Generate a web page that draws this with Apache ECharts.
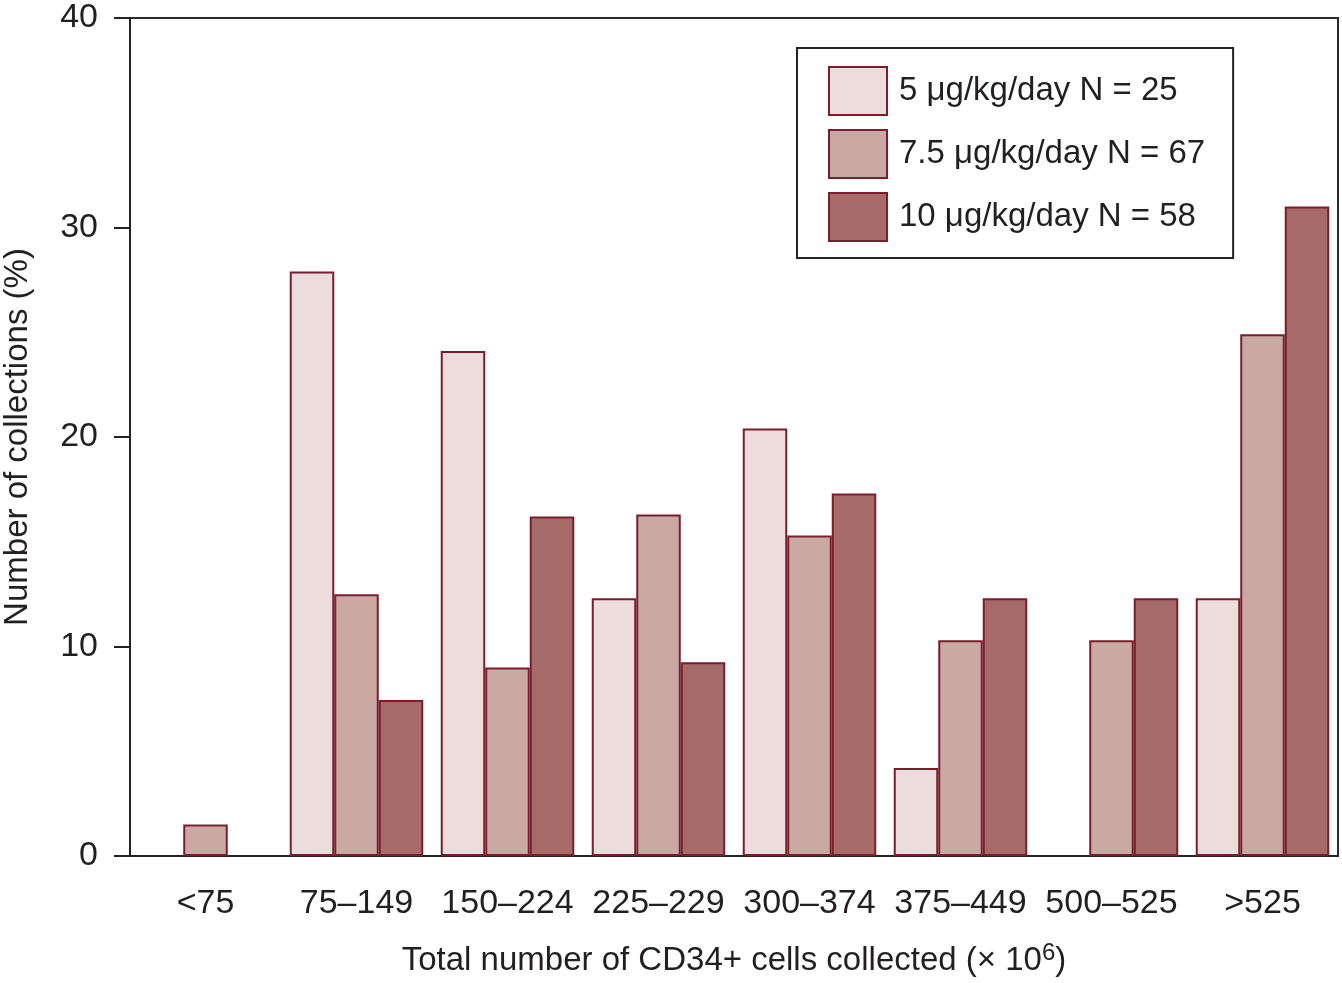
<!DOCTYPE html>
<html>
<head>
<meta charset="utf-8">
<script src="https://cdn.jsdelivr.net/npm/echarts@6/dist/echarts.min.js"></script>
<style>
html,body{margin:0;padding:0;background:#fff;}
#chart{width:1342px;height:983px;}
</style>
</head>
<body>
<div id="chart"></div>
<script>
const categories = ['<75', '75–149', '150–224', '225–229', '300–374', '375–449', '500–525', '>525'];
const seriesNames = ['5 μg/kg/day N = 25', '7.5 μg/kg/day N = 67', '10 μg/kg/day N = 58'];
const dose5 = [null, 27.9, 24.1, 12.3, 20.4, 4.2, null, 12.3];
const dose75 = [1.5, 12.5, 9.0, 16.3, 15.3, 10.3, 10.3, 24.9];
const dose10 = [null, 7.45, 16.2, 9.25, 17.3, 12.3, 12.3, 31.0];
const yTicks = [0, 10, 20, 30, 40];

const fills = ['#ecdcdc', '#caa9a5', '#a66b69'];
const edge = '#7a1e2c';
const ink = '#231f20';
const font = '"Liberation Sans", Arial, Helvetica, sans-serif';

const chart = echarts.init(document.getElementById('chart'), null, {renderer: 'canvas'});
const values = [dose5, dose75, dose10];

chart.setOption({
  backgroundColor: '#fff',
  animation: false,
  textStyle: {fontFamily: font, color: ink},
  grid: {left: 130, right: 4, top: 18, bottom: 127, containLabel: false, outerBoundsMode: 'none',
    show: true, borderColor: '#2a2a2a', borderWidth: 2, backgroundColor: 'transparent'},
  legend: {
    orient: 'vertical',
    left: 797, top: 48,
    padding: [18, 28, 16, 31],
    itemWidth: 58, itemHeight: 48, itemGap: 13,
    borderColor: '#222', borderWidth: 2,
    backgroundColor: '#fff',
    icon: 'rect',
    textStyle: {fontFamily: font, fontSize: 33, color: ink, padding: [0, 0, 0, 7]},
    data: seriesNames
  },
  xAxis: {
    type: 'category',
    data: categories,
    axisLine: {lineStyle: {color: '#222', width: 2}},
    axisTick: {alignWithLabel: true, length: 15, lineStyle: {color: '#222', width: 2}},
    axisLabel: {fontFamily: font, fontSize: 34, color: ink, margin: 31, interval: 0},
    name: 'Total number of CD34+ cells collected (× 10{sup|6})',
    nameLocation: 'middle',
    nameGap: 85,
    nameTextStyle: {fontFamily: font, fontSize: 33, color: ink,
      rich: {sup: {fontFamily: font, fontSize: 24, color: ink, padding: [0, 0, 16, 0]}}}
  },
  yAxis: {
    type: 'value',
    min: yTicks[0], max: yTicks[yTicks.length - 1], interval: 10,
    splitLine: {show: false},
    axisLine: {show: true, lineStyle: {color: '#222', width: 2}},
    axisTick: {show: true, length: 16, lineStyle: {color: '#222', width: 2}},
    axisLabel: {fontFamily: font, fontSize: 34, color: ink, margin: 32},
    name: 'Number of collections (%)',
    nameLocation: 'middle',
    nameGap: 96,
    nameTextStyle: {fontFamily: font, fontSize: 33, color: ink}
  },
  series: seriesNames.map((n, i) => ({
    name: n,
    type: 'bar',
    data: values[i],
    barWidth: 44.5,
    barGap: '0%',
    itemStyle: {color: fills[i], borderColor: edge, borderWidth: 2}
  }))
});
</script>
</body>
</html>
